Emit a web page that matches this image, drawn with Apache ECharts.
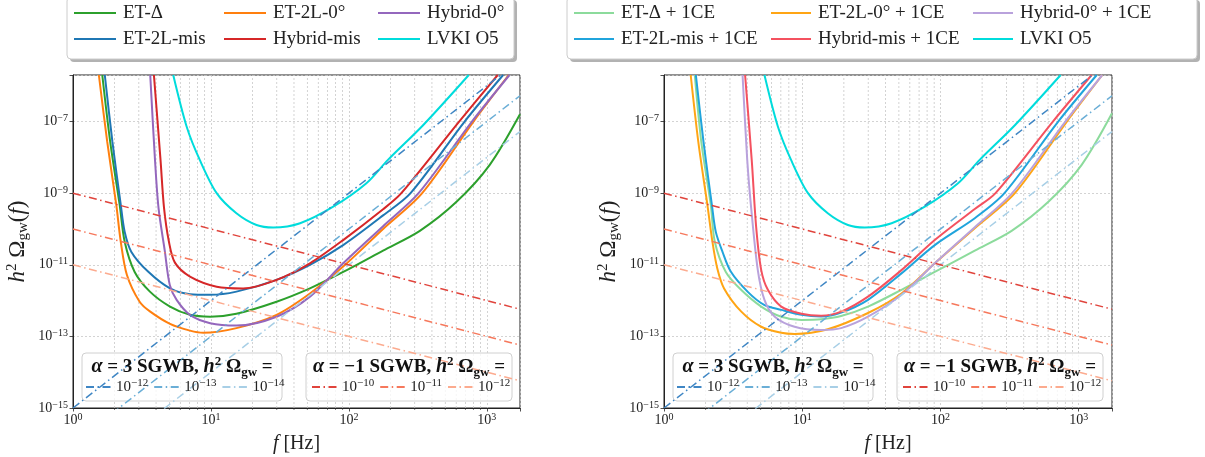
<!DOCTYPE html>
<html>
<head>
<meta charset="utf-8">
<script src="https://cdn.jsdelivr.net/npm/echarts@6/dist/echarts.min.js"></script>
<style>
html, body { margin: 0; padding: 0; background: #fff; }
#chart { width: 1205px; height: 457px; }
</style>
</head>
<body>
<div id="chart"></div>
<script>
const serif = 'Liberation Serif';

// axis limits and minor tick positions (Hz)
const xMin = 1, xMax = 1740;
const yMin = 1e-15, yMax = 2e-6;
const minorFreqs = [2, 3, 4, 5, 6, 7, 8, 9, 20, 30, 40, 50, 60, 70, 80, 90,
  200, 300, 400, 500, 600, 700, 800, 900];

// sensitivity curves, [f in Hz, h^2 Omega_gw]
// left panel
const etDelta = [[1.63, 2e-6], [1.86, 2.75e-8], [2.18, 4.7e-10], [2.37, 4.4e-11], [2.8, 6.3e-12],
  [3.61, 1.78e-12], [5.05, 6.8e-13], [7.05, 4e-13], [9.87, 3.55e-13], [15.3, 4.3e-13],
  [29.9, 9.3e-13], [52.2, 2.19e-12], [90.9, 6.3e-12], [177, 2.5e-11], [327, 8.9e-11],
  [603, 5.75e-10], [1050, 6.2e-9], [1740, 1.6e-7]];
const et2Lmis = [[1.70, 2e-6], [1.93, 2.75e-8], [2.22, 4.7e-10], [2.37, 8.3e-11], [2.65, 2.29e-11],
  [3.5, 6.46e-12], [5.05, 2.19e-12], [7.05, 1.51e-12], [9.87, 1.45e-12], [15.3, 1.78e-12],
  [29.9, 3.8e-12], [52.2, 1e-11], [90.9, 3.55e-11], [177, 2.4e-10], [280, 1e-9],
  [690, 1e-7], [1313, 2e-6]];
const et2L0 = [[1.54, 2e-6], [1.77, 2.75e-8], [2.06, 4.7e-10], [2.22, 4.4e-11], [2.46, 5.2e-12],
  [3.04, 9.3e-13], [3.61, 5e-13], [5.05, 2.24e-13], [7.05, 1.45e-13], [8.8, 1.26e-13],
  [15.3, 1.7e-13], [29.9, 4e-13], [52.2, 1.58e-12], [90.9, 8.9e-12], [177, 1e-10],
  [340, 1e-9], [800, 1e-7], [1440, 2e-6]];
const hybridMis = [[3.86, 2e-6], [4.31, 8.5e-9], [4.57, 3.9e-10], [4.96, 4.4e-11], [5.48, 1.15e-11],
  [7.05, 4.7e-12], [11.0, 2.45e-12], [17.1, 2.19e-12], [29.9, 3.8e-12], [52.2, 1.1e-11],
  [90.9, 4.9e-11], [177, 3.55e-10], [240, 1e-9], [630, 1e-7], [1200, 2e-6]];
const hybrid0 = [[3.63, 2e-6], [3.93, 8.5e-9], [4.17, 3.8e-10], [4.62, 2.57e-11], [5.03, 2.75e-12],
  [5.64, 1.05e-12], [7.05, 4e-13], [9.87, 2.34e-13], [15.3, 2e-13], [29.9, 3.55e-13],
  [52.2, 1.29e-12], [90.9, 1.1e-11], [177, 1.2e-10], [320, 1e-9], [780, 1e-7], [1460, 2e-6]];
const lvkO5 = [[5.33, 2e-6], [6.67, 7.2e-8], [8.3, 8.5e-9], [11.0, 1e-9], [15.3, 2.75e-10],
  [21.4, 1.29e-10], [28.3, 1.1e-10], [44.3, 1.45e-10], [77, 4.2e-10], [134, 1.9e-9],
  [192, 8.5e-9], [345, 7.9e-8], [740, 2e-6]];

// right panel (+ 1CE)
const etDeltaCE = [[1.67, 2e-6], [1.86, 2.75e-8], [2.18, 4.7e-10], [2.33, 4.4e-11], [2.8, 6.3e-12],
  [3.61, 2e-12], [5.05, 6.8e-13], [7.05, 3.55e-13], [9.87, 2.88e-13], [13.7, 3e-13],
  [19.1, 3.7e-13], [29.9, 6.8e-13], [52.2, 2e-12], [90.9, 6.3e-12], [177, 2.5e-11],
  [327, 8.9e-11], [603, 5.75e-10], [1050, 6.2e-9], [1740, 1.7e-7]];
const et2LmisCE = [[1.70, 2e-6], [1.93, 2.75e-8], [2.22, 4.7e-10], [2.37, 8.3e-11], [2.65, 2.29e-11],
  [3.04, 6.46e-12], [4.02, 1.78e-12], [5.3, 7.6e-13], [7.05, 5.5e-13], [9.87, 4e-13], [13.7, 3.6e-13],
  [19.1, 4.6e-13], [29.9, 1.05e-12], [52.2, 5.75e-12], [90.9, 3.55e-11], [177, 2e-10],
  [290, 1e-9], [710, 1e-7], [1350, 2e-6]];
const et2L0CE = [[1.56, 2e-6], [1.77, 2.75e-8], [2.06, 4.7e-10], [2.24, 4.4e-11], [2.43, 7.9e-12],
  [2.72, 2.19e-12], [3.61, 5e-13], [5.05, 1.86e-13], [7.05, 1.26e-13], [8.8, 1.17e-13],
  [15.3, 1.58e-13], [29.9, 4.5e-13], [52.2, 1.58e-12], [90.9, 1.1e-11], [177, 1.05e-10],
  [345, 1e-9], [820, 1e-7], [1480, 2e-6]];
const hybridMisCE = [[3.86, 2e-6], [4.31, 8.5e-9], [4.64, 1.15e-10], [5.05, 7.1e-12], [5.64, 2e-12],
  [7.05, 6.8e-13], [9.87, 4.3e-13], [13.7, 3.8e-13], [19.1, 4.9e-13], [29.9, 1.29e-12],
  [52.2, 7.1e-12], [90.9, 4.9e-11], [177, 3.6e-10], [250, 1e-9], [650, 1e-7], [1240, 2e-6]];
const hybrid0CE = [[3.70, 2e-6], [4.0, 8.5e-9], [4.27, 3.9e-10], [4.77, 7.1e-12], [5.33, 1.05e-12],
  [6.33, 3.55e-13], [8.8, 1.86e-13], [13.7, 1.51e-13], [19.1, 1.7e-13], [29.9, 3.55e-13],
  [52.2, 1.45e-12], [90.9, 1.1e-11], [177, 1.12e-10], [330, 1e-9], [800, 1e-7], [1480, 2e-6]];

// power-law SGWB lines, end points at the axis edges
const pl3_12 = [[1, 1e-15], [1740, 5.27e-6]];
const pl3_13 = [[1, 1e-16], [1740, 5.27e-7]];
const pl3_14 = [[1, 1e-17], [1740, 5.27e-8]];
const plm1_10 = [[1, 1e-9], [1740, 5.75e-13]];
const plm1_11 = [[1, 1e-10], [1740, 5.75e-14]];
const plm1_12 = [[1, 1e-11], [1740, 5.75e-15]];
const powNames = { p3_12: '\u221212', p3_13: '\u221213', p3_14: '\u221214',
  m1_10: '\u221210', m1_11: '\u221211', m1_12: '\u221212' };

const gridL = [73, 664];

function powLabel(v) {
  const e = Math.log10(v);
  const r = Math.round(e);
  if (Math.abs(e - r) > 1e-6) return '';
  return '{b|10}{s|' + (r < 0 ? '\u2212' + (-r) : r) + '}';
}
const labelRich = {
  b: { fontFamily: serif, fontSize: 14, lineHeight: 16, color: '#222' },
  s: { fontFamily: serif, fontSize: 10, lineHeight: 10, verticalAlign: 'top', color: '#222' }
};
const gridLine = { show: true, lineStyle: { color: '#c8c8c8', width: 0.8, type: [2, 2] } };

function xAxisCfg(gi) {
  return {
    type: 'log', logBase: 10, gridIndex: gi, min: xMin, max: xMax,
    name: '{it|f} [Hz]', nameLocation: 'middle', nameGap: 26,
    nameTextStyle: { fontFamily: serif, fontSize: 20, color: '#222',
      rich: { it: { fontFamily: serif, fontSize: 20, fontStyle: 'italic', color: '#222' } } },
    axisLine: { show: true, lineStyle: { color: '#222', width: 1 } },
    axisTick: { show: true, inside: false, length: 3.5, lineStyle: { color: '#222', width: 0.8 } },
    axisLabel: { formatter: powLabel, margin: 4, rich: labelRich },
    splitLine: gridLine
  };
}
function yAxisCfg(gi) {
  return {
    type: 'log', logBase: 10, gridIndex: gi, min: yMin, max: yMax, interval: 2,
    name: '{it|h}{sup|2}{n| \u03a9}{sub|gw}{n|(}{it|f}{n|)}',
    nameLocation: 'middle', nameGap: 42, nameRotate: 90,
    nameTextStyle: { fontFamily: serif, fontSize: 22, color: '#222', rich: {
      it: { fontFamily: serif, fontSize: 23, fontStyle: 'italic', lineHeight: 26, color: '#222' },
      n: { fontFamily: serif, fontSize: 23, lineHeight: 26, color: '#222' },
      sup: { fontFamily: serif, fontSize: 15, lineHeight: 15, verticalAlign: 'top', color: '#222' },
      sub: { fontFamily: serif, fontSize: 15, lineHeight: 15, verticalAlign: 'bottom', color: '#222' }
    } },
    axisLine: { show: true, lineStyle: { color: '#222', width: 1 } },
    axisTick: { show: true, inside: false, length: 3.5, lineStyle: { color: '#222', width: 0.8 } },
    axisLabel: { formatter: powLabel, margin: 5, rich: labelRich },
    splitLine: gridLine
  };
}

function curve(name, data, color, gi) {
  return { name, type: 'line', xAxisIndex: gi, yAxisIndex: gi, data, symbol: 'none',
    smooth: 0.3, z: 2, silent: true,
    lineStyle: { color, width: 2 }, itemStyle: { color } };
}
function power(name, data, color, gi) {
  return { name, type: 'line', xAxisIndex: gi, yAxisIndex: gi, data, symbol: 'none', z: 3, silent: true,
    lineStyle: { color, width: 1.5, type: [8, 3.5, 1.5, 3.5] }, itemStyle: { color } };
}
// minor vertical grid lines and minor ticks on the log f axis
function minorSeries(gi) {
  return {
    type: 'custom', xAxisIndex: gi, yAxisIndex: gi, silent: true, z: 1, clip: false,
    data: minorFreqs.map(f => [f, yMin]),
    renderItem: (params, api) => {
      const b = api.coord([api.value(0), yMin]);
      const t = api.coord([api.value(0), yMax]);
      return { type: 'group', children: [
        { type: 'line', shape: { x1: b[0], y1: b[1], x2: t[0], y2: t[1] },
          style: { stroke: '#c8c8c8', lineWidth: 0.8, lineDash: [2, 2] } },
        { type: 'line', shape: { x1: b[0], y1: b[1], x2: b[0], y2: b[1] + 2 },
          style: { stroke: '#222', lineWidth: 0.6 } }
      ] };
    }
  };
}

const cA3 = ['#3f86c4', '#6aaed6', '#a8cfe6'];
const cAm1 = ['#e0443c', '#f6785c', '#fcab8f'];
function powerSet(gi) {
  return [
    power('p3_12', pl3_12, cA3[0], gi), power('p3_13', pl3_13, cA3[1], gi), power('p3_14', pl3_14, cA3[2], gi),
    power('m1_10', plm1_10, cAm1[0], gi), power('m1_11', plm1_11, cAm1[1], gi), power('m1_12', plm1_12, cAm1[2], gi)
  ];
}

const series = [
  minorSeries(0), minorSeries(1),
  curve('ET-\u0394', etDelta, '#2ca02c', 0),
  curve('ET-2L-mis', et2Lmis, '#1f77b4', 0),
  curve('ET-2L-0\u00b0', et2L0, '#ff7f0e', 0),
  curve('Hybrid-mis', hybridMis, '#d62728', 0),
  curve('Hybrid-0\u00b0', hybrid0, '#9467bd', 0),
  curve('LVKI O5', lvkO5, '#00dcdc', 0),
  curve('ET-\u0394 + 1CE', etDeltaCE, '#8cdb9c', 1),
  curve('ET-2L-mis + 1CE', et2LmisCE, '#20a4dc', 1),
  curve('ET-2L-0\u00b0 + 1CE', et2L0CE, '#ffa514', 1),
  curve('Hybrid-mis + 1CE', hybridMisCE, '#f4515f', 1),
  curve('Hybrid-0\u00b0 + 1CE', hybrid0CE, '#b9a2dc', 1),
  curve('LVKI O5', lvkO5, '#00dcdc', 1)
].concat(powerSet(0), powerSet(1));

// legends: only the line sample, the marker is hidden
function topLegend(names, left, iw) {
  return { data: names, orient: 'vertical', left, top: 3, padding: 0, itemWidth: iw, itemHeight: 20,
    itemGap: 6, selectedMode: false, itemStyle: { opacity: 0 },
    textStyle: { fontFamily: serif, fontSize: 19, lineHeight: 20, color: '#222', padding: [0, 0, 0, 2] } };
}
function powLegend(names, left) {
  return { data: names, orient: 'horizontal', left, top: 378, padding: 0, itemWidth: 25, itemHeight: 18,
    itemGap: 5, selectedMode: false, itemStyle: { opacity: 0 },
    formatter: n => '{t|10}{s|' + powNames[n] + '}',
    textStyle: { fontFamily: serif, fontSize: 15, color: '#222', rich: {
      t: { fontFamily: serif, fontSize: 15, lineHeight: 18, color: '#222' },
      s: { fontFamily: serif, fontSize: 11, lineHeight: 11, verticalAlign: 'top', color: '#222' }
    } } };
}

const legends = [
  topLegend(['ET-\u0394', 'ET-2L-mis'], 73, 42),
  topLegend(['ET-2L-0\u00b0', 'Hybrid-mis'], 223, 42),
  topLegend(['Hybrid-0\u00b0', 'LVKI O5'], 377, 42),
  topLegend(['ET-\u0394 + 1CE', 'ET-2L-mis + 1CE'], 573, 40),
  topLegend(['ET-2L-0\u00b0 + 1CE', 'Hybrid-mis + 1CE'], 770, 40),
  topLegend(['Hybrid-0\u00b0 + 1CE', 'LVKI O5'], 972, 40)
];
gridL.forEach((gx, gi) => {
  legends.push(powLegend(['p3_12', 'p3_13', 'p3_14'], gx + 12));
  legends.push(powLegend(['m1_10', 'm1_11', 'm1_12'], gx + 238));
});

// legend frames and box titles
const titleRich = {
  bi: { fontFamily: serif, fontSize: 20, fontWeight: 'bold', fontStyle: 'italic', lineHeight: 24, fill: '#111' },
  b: { fontFamily: serif, fontSize: 19, fontWeight: 'bold', lineHeight: 24, fill: '#111' },
  sup: { fontFamily: serif, fontSize: 13, fontWeight: 'bold', lineHeight: 13, verticalAlign: 'top', fill: '#111' },
  sub: { fontFamily: serif, fontSize: 13, fontWeight: 'bold', lineHeight: 13, verticalAlign: 'bottom', fill: '#111' }
};
const graphics = [];
[[67, 447], [567, 630]].forEach(([x, w]) => {
  graphics.push({ type: 'rect', z: 3, shape: { x: x + 3, y: 0, width: w, height: 62, r: 4 },
    style: { fill: 'rgba(0,0,0,0.3)' } });
  graphics.push({ type: 'rect', z: 3, shape: { x, y: -3, width: w, height: 62, r: 4 },
    style: { fill: '#fff', stroke: '#cccccc', lineWidth: 1 } });
});
gridL.forEach(gx => {
  graphics.push({ type: 'rect', z: 3, shape: { x: gx + 9, y: 353, width: 200, height: 48, r: 4 },
    style: { fill: 'rgba(255,255,255,0.8)', stroke: '#d0d0d0', lineWidth: 1 } });
  graphics.push({ type: 'rect', z: 3, shape: { x: gx + 233, y: 353, width: 206, height: 48, r: 4 },
    style: { fill: 'rgba(255,255,255,0.8)', stroke: '#d0d0d0', lineWidth: 1 } });
  graphics.push({ type: 'text', z: 5, x: gx + 109, y: 367, style: {
    text: '{bi|\u03b1}{b| = 3 SGWB, }{bi|h}{sup|2}{b| \u03a9}{sub|gw}{b| =}',
    rich: titleRich, align: 'center', verticalAlign: 'middle', font: 'bold 19px ' + serif } });
  graphics.push({ type: 'text', z: 5, x: gx + 336, y: 367, style: {
    text: '{bi|\u03b1}{b| = \u22121 SGWB, }{bi|h}{sup|2}{b| \u03a9}{sub|gw}{b| =}',
    rich: titleRich, align: 'center', verticalAlign: 'middle', font: 'bold 19px ' + serif } });
});

const chart = echarts.init(document.getElementById('chart'));
chart.setOption({
  animation: false,
  backgroundColor: '#fff',
  grid: [
    { left: gridL[0], top: 75, width: 447, height: 333, show: true, borderColor: '#222', borderWidth: 1, outerBoundsMode: 'none' },
    { left: gridL[1], top: 75, width: 448, height: 333, show: true, borderColor: '#222', borderWidth: 1, outerBoundsMode: 'none' }
  ],
  xAxis: [xAxisCfg(0), xAxisCfg(1)],
  yAxis: [yAxisCfg(0), yAxisCfg(1)],
  legend: legends,
  graphic: graphics,
  series
});
</script>
</body>
</html>
